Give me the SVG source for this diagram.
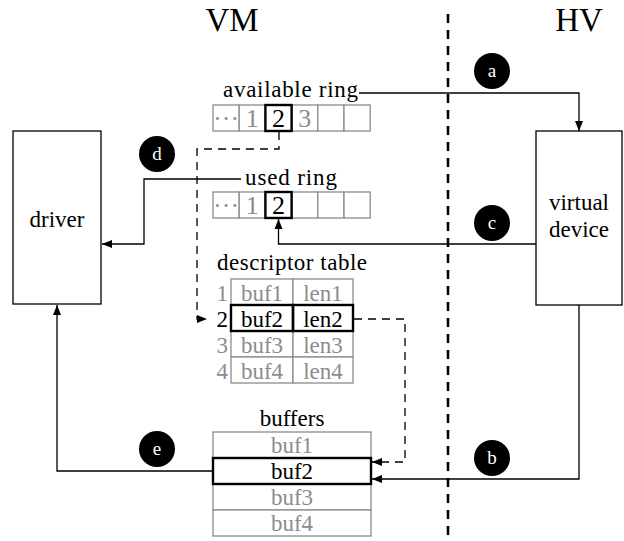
<svg xmlns="http://www.w3.org/2000/svg" width="624" height="541" viewBox="0 0 624 541" font-family="'Liberation Serif', 'Times New Roman', Times, serif">
<defs>
<style>
text{font-family:'Liberation Serif','Times New Roman',Times,serif;fill:#000}
.t{font-size:23px}
.title{font-size:33px;text-anchor:middle}
.dig{font-size:26px;text-anchor:middle}
.c{text-anchor:middle}
.g{fill:#8c8c8c}
.gc{fill:#fff;stroke:#8c8c8c;stroke-width:1.3}
.bc{fill:none;stroke:#000;stroke-width:2.4}
.box{fill:#fff;stroke:#000;stroke-width:1.3}
.ln{fill:none;stroke:#000;stroke-width:1.3}
.dash{fill:none;stroke:#000;stroke-width:1.3;stroke-dasharray:8,6}
.sep{fill:none;stroke:#000;stroke-width:2.6;stroke-dasharray:9,7}
.badge circle{fill:#000}
.badge text{fill:#fff;font-size:19px;text-anchor:middle}
</style>
<marker id="ah" viewBox="0 0 10 10" refX="10" refY="5" markerWidth="10" markerHeight="10" markerUnits="userSpaceOnUse" orient="auto">
<path d="M0,1 L10,5 L0,9 Z" fill="#000"/>
</marker>
</defs>
<rect width="624" height="541" fill="#fff"/>

<text class="title" x="232" y="31">VM</text>
<text class="title" x="579" y="31">HV</text>
<line class="sep" x1="448" y1="14" x2="448" y2="541"/>

<g id="driver">
<rect class="box" x="13" y="131" width="88" height="173"/>
<text class="t c" x="57" y="227">driver</text>
</g>

<g id="virtual-device">
<rect class="box" x="536" y="131" width="86" height="174"/>
<text class="t c" x="579" y="210">virtual</text>
<text class="t c" x="579" y="237">device</text>
</g>

<g id="available-ring">
<text class="t c" x="290.5" y="97" textLength="135" lengthAdjust="spacing">available ring</text>
<rect class="gc" x="213" y="105" width="26.2" height="26"/>
<rect class="gc" x="239.2" y="105" width="26.2" height="26"/>
<rect class="gc" x="291.6" y="105" width="26.2" height="26"/>
<rect class="gc" x="317.8" y="105" width="26.2" height="26"/>
<rect class="gc" x="344" y="105" width="26.2" height="26"/>
<rect class="bc" x="265.4" y="105" width="26.2" height="26"/>
<text class="dig g" x="226.1" y="127">···</text>
<text class="dig g" x="252.3" y="127">1</text>
<text class="dig" x="278.5" y="127">2</text>
<text class="dig g" x="304.7" y="127">3</text>
</g>

<g id="used-ring">
<text class="t c" x="291" y="185" textLength="92" lengthAdjust="spacing">used ring</text>
<rect class="gc" x="213" y="192" width="26.2" height="26"/>
<rect class="gc" x="239.2" y="192" width="26.2" height="26"/>
<rect class="gc" x="291.6" y="192" width="26.2" height="26"/>
<rect class="gc" x="317.8" y="192" width="26.2" height="26"/>
<rect class="gc" x="344" y="192" width="26.2" height="26"/>
<rect class="bc" x="265.4" y="192" width="26.2" height="26"/>
<text class="dig g" x="226.1" y="214">···</text>
<text class="dig g" x="252.3" y="214">1</text>
<text class="dig" x="278.5" y="214">2</text>
</g>

<g id="descriptor-table">
<text class="t c" x="292" y="270" textLength="150" lengthAdjust="spacing">descriptor table</text>
<rect class="gc" x="231" y="279" width="62" height="26"/>
<rect class="gc" x="293" y="279" width="60" height="26"/>
<rect class="gc" x="231" y="331" width="62" height="26"/>
<rect class="gc" x="293" y="331" width="60" height="26"/>
<rect class="gc" x="231" y="357" width="62" height="26"/>
<rect class="gc" x="293" y="357" width="60" height="26"/>
<rect class="bc" x="231" y="305" width="62" height="26"/>
<rect class="bc" x="293" y="305" width="60" height="26"/>
<text class="t g" x="228" y="301" text-anchor="end">1</text>
<text class="t" x="228" y="327" text-anchor="end">2</text>
<text class="t g" x="228" y="353" text-anchor="end">3</text>
<text class="t g" x="228" y="379" text-anchor="end">4</text>
<text class="t c g" x="262" y="301">buf1</text>
<text class="t c" x="262" y="327">buf2</text>
<text class="t c g" x="262" y="353">buf3</text>
<text class="t c g" x="262" y="379">buf4</text>
<text class="t c g" x="323" y="301">len1</text>
<text class="t c" x="323" y="327">len2</text>
<text class="t c g" x="323" y="353">len3</text>
<text class="t c g" x="323" y="379">len4</text>
</g>

<g id="buffers">
<text class="t c" x="292" y="426">buffers</text>
<rect class="gc" x="213" y="432" width="158" height="26"/>
<rect class="gc" x="213" y="484" width="158" height="26"/>
<rect class="gc" x="213" y="510" width="158" height="26"/>
<rect class="bc" x="213" y="458" width="158" height="26"/>
<text class="t c g" x="292" y="453">buf1</text>
<text class="t c" x="292" y="479">buf2</text>
<text class="t c g" x="292" y="505">buf3</text>
<text class="t c g" x="292" y="531">buf4</text>
</g>

<g id="connectors">
<path class="ln" d="M359,93 H579 V131" marker-end="url(#ah)"/>
<path class="ln" d="M536,244 H278.5 V219" marker-end="url(#ah)"/>
<path class="ln" d="M241,179 H144 V244 H102" marker-end="url(#ah)"/>
<path class="ln" d="M579,305 V479 H372" marker-end="url(#ah)"/>
<path class="ln" d="M213,471 H57 V305" marker-end="url(#ah)"/>
<path class="dash" d="M279,132 V149 H197 V319 H207" marker-end="url(#ah)"/>
<path class="dash" d="M354,319 H405 V462 H372" marker-end="url(#ah)"/>
</g>

<g id="badge-a" class="badge"><circle cx="492" cy="71" r="18"/><text x="492" y="77">a</text></g>
<g id="badge-b" class="badge"><circle cx="492" cy="458" r="18"/><text x="492" y="464">b</text></g>
<g id="badge-c" class="badge"><circle cx="492" cy="223" r="18"/><text x="492" y="229">c</text></g>
<g id="badge-d" class="badge"><circle cx="157" cy="154" r="18"/><text x="157" y="160">d</text></g>
<g id="badge-e" class="badge"><circle cx="157" cy="449" r="18"/><text x="157" y="455">e</text></g>
</svg>
